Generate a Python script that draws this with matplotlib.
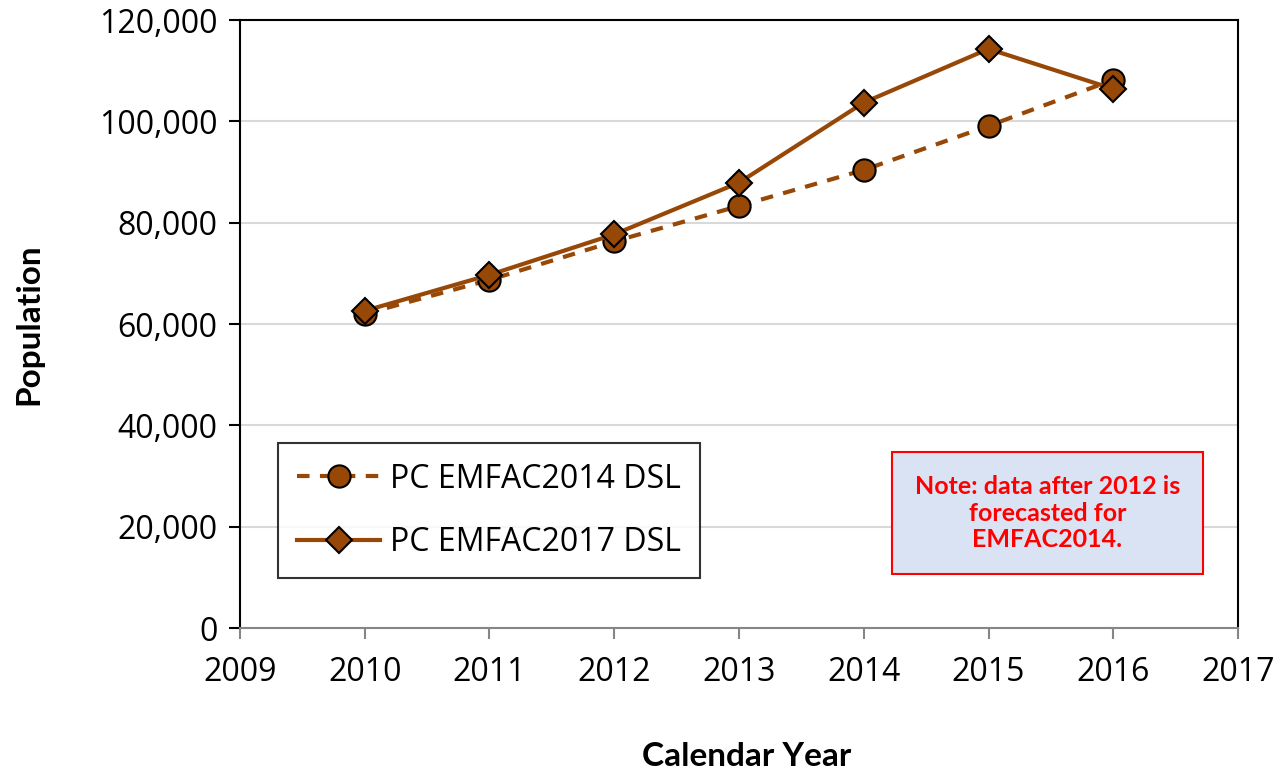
import numpy as np
import matplotlib.pyplot as plt
from matplotlib.ticker import FuncFormatter

years = [2010, 2011, 2012, 2013, 2014, 2015, 2016]
emfac2014 = [62000, 68700, 76300, 83300, 90400, 99100, 108200]
emfac2017 = [62600, 69700, 77700, 87900, 103700, 114300, 106400]

brown = '#974706'
plt.rcParams['font.family'] = ['Open Sans', 'DejaVu Sans']

fig = plt.figure(figsize=(12.88, 7.79), dpi=100)
ax = fig.add_axes([0.1863, 0.1938, 0.7749, 0.7805])

ax.plot(years, emfac2014, color=brown, lw=3, ls=(0, (3, 2.5)), marker='o',
        markersize=16, markerfacecolor=brown, markeredgecolor='black',
        markeredgewidth=1.5, label='PC EMFAC2014 DSL', zorder=3)
ax.plot(years, emfac2017, color=brown, lw=3, marker='D',
        markersize=13, markerfacecolor=brown, markeredgecolor='black',
        markeredgewidth=1.5, label='PC EMFAC2017 DSL', zorder=4)

ax.set_xlim(2009, 2017)
ax.set_ylim(0, 120000)
ax.set_xticks(range(2009, 2018))
ax.set_yticks(range(0, 120001, 20000))
ax.yaxis.set_major_formatter(FuncFormatter(lambda v, p: f'{int(v):,}'))
ax.grid(axis='y', color='#d9d9d9', lw=1.5)
ax.set_axisbelow(True)

for s in ['left', 'top', 'right']:
    ax.spines[s].set_color('black')
    ax.spines[s].set_linewidth(1.5)
ax.spines['bottom'].set_color('#868686')
ax.spines['bottom'].set_linewidth(1.5)
ax.tick_params(axis='y', colors='black', labelsize=23, length=8, width=1.5, pad=8)
ax.tick_params(axis='x', color='#868686', labelcolor='black', labelsize=23,
               length=8, width=1.5, pad=12)

ax.set_ylabel('Population', fontsize=24, fontweight='bold', family='Lato')
ax.yaxis.set_label_coords(-0.197, 0.5)
ax.set_xlabel('Calendar Year', fontsize=24, fontweight='bold', family='Lato')
ax.xaxis.set_label_coords(0.508, -0.187)

leg = ax.legend(loc='lower left', bbox_to_anchor=(0.038, 0.082), borderaxespad=0,
                fontsize=23, frameon=True, fancybox=False, edgecolor='black',
                borderpad=0.6, labelspacing=0.95, handlelength=2.6, handletextpad=0.3)
leg.get_frame().set_linewidth(1.5)

ax.text(0.809, 0.189, 'Note: data after 2012 is\nforecasted for\nEMFAC2014.',
        transform=ax.transAxes, ha='center', va='center', color='#ff0000',
        fontsize=18, fontweight='bold', family='Lato', linespacing=1.2,
        bbox=dict(boxstyle='square,pad=0.9', facecolor='#dae3f3', edgecolor='#ff0000', lw=1.5))

fig.savefig('out.png', dpi=100)
